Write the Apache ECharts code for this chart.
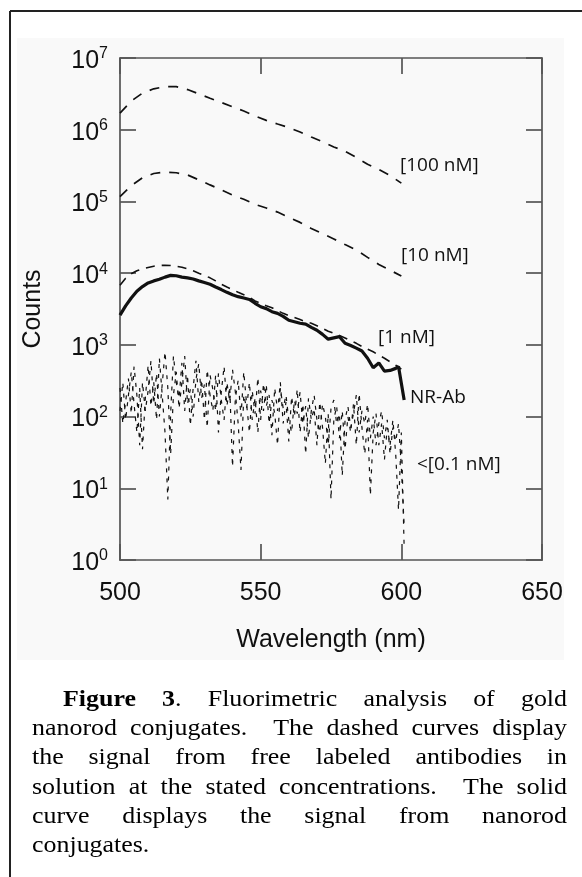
<!DOCTYPE html>
<html><head><meta charset="utf-8">
<script src="https://cdn.jsdelivr.net/npm/echarts@6/dist/echarts.min.js"></script>
<style>html,body{margin:0;padding:0;background:#fff}#c{width:582px;height:877px}</style>
</head><body><div id="c"></div>
<script>
// ---------------- data ----------------
const xTicks = [500, 550, 600, 650];
const yExponents = [0, 1, 2, 3, 4, 5, 6, 7];

const wlHigh = [500,504,508,512,516,520,524,528,532,536,540,544,548,552,556,560,564,568,572,576,580,584,588,592,596,600];
const c100nM = [1.70e6,2.51e6,3.24e6,3.72e6,3.98e6,3.98e6,3.63e6,3.16e6,2.75e6,2.40e6,2.09e6,1.82e6,1.55e6,1.35e6,1.20e6,1.07e6,9.3e5,7.9e5,6.8e5,5.75e5,5.0e5,4.1e5,3.3e5,2.8e5,2.3e5,1.8e5];
const c10nM = [1.17e5,1.66e5,2.14e5,2.45e5,2.57e5,2.51e5,2.34e5,2.0e5,1.70e5,1.45e5,1.23e5,1.07e5,9.1e4,8.1e4,7.1e4,6.0e4,5.1e4,4.2e4,3.55e4,3.0e4,2.5e4,2.1e4,1.66e4,1.32e4,1.10e4,9.1e3];

const wl1nM = [500,502,504,506,508,510,512,514,516,518,520,522,524,526,528,530,532,534,536,538,540,542,544,546,548,550,552,554,556,558,560,562,564,566,568,570,572,574,576,578,580,582,584,586,588,590,592,594,596,598,600];
const c1nM = [6800,8500,9800,10800,11500,12000,12500,12800,12900,12800,12500,12100,11500,10800,10000,9300,8600,7800,7000,6400,5900,5400,5000,4600,4100,3800,3500,3300,3000,2750,2550,2400,2250,2100,2000,1850,1700,1550,1450,1350,1250,1150,1050,950,870,800,720,650,580,520,460];

const wlNR = [500,502,504,506,508,510,512,514,516,518,520,522,524,526,528,530,532,534,536,538,540,542,544,546,548,550,552,554,556,558,560,562,564,566,568,570,572,574,576,578,580,582,584,586,588,590,592,594,596,598,599,601];
const nrAb = [2600,3500,4500,5600,6500,7300,7800,8200,8800,9300,9200,8800,8600,8300,7800,7400,7000,6400,5900,5400,5000,4700,4500,4300,3800,3400,3200,2900,2750,2500,2200,2100,2000,1950,1750,1600,1400,1200,1250,1300,1050,980,900,820,650,480,560,430,440,470,500,170];

const wlNoise = [500,501,502,503,504,505,506,507,508,509,510,511,512,513,514,515,516,517,518,519,520,521,522,523,524,525,526,527,528,529,530,531,532,533,534,535,536,537,538,539,540,541,542,543,544,545,546,547,548,549,550,551,552,553,554,555,556,557,558,559,560,561,562,563,564,565,566,567,568,569,570,571,572,573,574,575,576,577,578,579,580,581,582,583,584,585,586,587,588,589,590,591,592,593,594,595,596,597,598,599,600,601];
const noiseA = [120,300,90,200,420,150,60,250,35,180,
 520,140,300,90,650,200,60,7,110,700,
 300,180,560,120,380,75,250,600,160,330,
 90,450,200,120,380,60,220,500,140,260,
 20,180,320,100,420,150,60,230,110,350,
 90,290,140,200,55,250,120,300,80,160,
 45,190,100,240,60,150,30,180,90,130,
 40,160,70,22,110,7,90,140,50,120,
 35,100,60,150,40,210,70,30,90,8,
 60,110,40,80,25,70,40,90,30,5,
 60,1.5];
const noiseB = [250,80,160,340,110,500,200,40,300,120,
 230,600,150,400,100,280,800,250,30,200,
 420,130,300,700,150,240,100,330,550,180,
 280,70,380,240,120,400,170,90,300,160,
 450,220,80,18,200,130,300,90,180,60,
 230,120,280,80,170,110,40,250,130,200,
 90,60,170,110,220,80,140,50,120,200,
 90,60,150,100,40,130,170,80,110,15,
 90,140,70,110,200,60,120,80,150,50,
 100,40,80,120,50,90,30,70,45,80,
 20,3];

const curveLabels = ['[100 nM]', '[10 nM]', '[1 nM]', 'NR-Ab', '<[0.1 nM]'];
const captionLines = [
  '**Figure** **3**. Fluorimetric analysis of gold',
  'nanorod conjugates.  The dashed curves display',
  'the signal from free labeled antibodies in',
  'solution at the stated concentrations.  The solid',
  'curve displays the signal from nanorod',
  'conjugates.'
];

// ---------------- chart ----------------
const zip = (xs, ys) => xs.map((x, i) => [x, ys[i]]);
const INK = '#111';
const FRAME = '#555';
const SANS = '"Liberation Sans", Arial, sans-serif';

const chart = echarts.init(document.getElementById('c'), null, {renderer: 'canvas'});

function lineSeries(name, xs, ys, width, dash, z) {
  return {
    name, type: 'line', data: zip(xs, ys), symbol: 'none', silent: true,
    z: z, animation: false,
    lineStyle: {color: INK, width: width, type: dash}
  };
}

const axisCommon = {
  axisLine: {show: true, lineStyle: {color: FRAME, width: 1.7}},
  axisTick: {show: true, inside: true, length: 16, lineStyle: {color: FRAME, width: 1.7}},
  splitLine: {show: false}
};

// caption layout (justified)
const CAP_SIZE = 24, CAP_SX = 1.08;
const CAP_LEFT = 32, CAP_RIGHT = 567, CAP_INDENT = 63;
const CAP_MID0 = 700, CAP_LH = 29.1;
const CAP_FAMILY = 'Liberation Serif';
const mctx = document.createElement('canvas').getContext('2d');
function segWidth(t, bold) {
  mctx.font = (bold ? 'bold ' : '') + CAP_SIZE + 'px "' + CAP_FAMILY + '"';
  return mctx.measureText(t).width * CAP_SX;
}
const captionGraphics = [];
captionLines.forEach((line, li) => {
  const tokens = line.split(' ');
  const words = tokens.filter(t => t.length).map(tok => tok.split('**').map((s, i) => ({t: s, b: i % 2 === 1})).filter(s => s.t.length));
  const wordW = words.map(segs => segs.reduce((a, s) => a + segWidth(s.t, s.b), 0));
  const start = li === 0 ? CAP_INDENT : CAP_LEFT;
  const total = wordW.reduce((a, b) => a + b, 0);
  const isLast = li === captionLines.length - 1;
  const gap = isLast ? segWidth(' ', false) : (CAP_RIGHT - start - total) / (tokens.length - 1);
  let x = start;
  const y = CAP_MID0 + li * CAP_LH;
  let wi = 0;
  tokens.forEach((tok, ti) => {
    if (tok.length) {
      let sx = x;
      words[wi].forEach(s => {
        captionGraphics.push({
          type: 'text', x: sx, y: y, scaleX: CAP_SX, silent: true,
          style: {text: s.t, fontFamily: CAP_FAMILY, fontSize: CAP_SIZE, fontWeight: s.b ? 'bold' : 'normal',
                  fill: '#000', align: 'left', verticalAlign: 'middle'}
        });
        sx += segWidth(s.t, s.b);
      });
      x += wordW[wi];
      wi++;
    }
    if (ti < tokens.length - 1) x += gap;
  });
});

const labelPos = [[400, 166], [401, 256], [378, 338], [410, 398], [417, 465]];
const labelGraphics = curveLabels.map((t, i) => ({
  type: 'text', x: labelPos[i][0], y: labelPos[i][1], silent: true,
  style: {text: t, fontFamily: 'Open Sans', fontSize: 19, fill: INK, align: 'left', verticalAlign: 'middle'}
}));

const option = {
  animation: false,
  backgroundColor: '#ffffff',
  grid: {left: 120, right: 40, top: 58, bottom: 317, containLabel: false},
  xAxis: [
    Object.assign({
      type: 'value', min: xTicks[0], max: xTicks[xTicks.length - 1], interval: 50, position: 'bottom',
      name: 'Wavelength (nm)', nameLocation: 'middle', nameGap: 68,
      nameTextStyle: {fontSize: 25, fontFamily: SANS, color: INK},
      axisLabel: {fontSize: 25, fontFamily: SANS, color: INK, margin: 21}
    }, axisCommon),
    Object.assign({
      type: 'value', min: xTicks[0], max: xTicks[xTicks.length - 1], interval: 50, position: 'top',
      axisLabel: {show: false}
    }, axisCommon)
  ],
  yAxis: [
    Object.assign({
      type: 'log', logBase: 10, min: Math.pow(10, yExponents[0]), max: Math.pow(10, yExponents[yExponents.length - 1]),
      splitNumber: 7, position: 'left',
      name: 'Counts', nameLocation: 'middle', nameGap: 74, nameRotate: 90,
      nameTextStyle: {fontSize: 25, fontFamily: SANS, color: INK},
      axisLabel: {
        margin: 12, padding: [6, 0, 0, 0],
        formatter: v => '{b|10}{e|' + Math.round(Math.log10(v)) + '}',
        rich: {
          b: {fontSize: 25, fontFamily: SANS, color: INK, lineHeight: 30},
          e: {fontSize: 16, fontFamily: SANS, color: INK, lineHeight: 16, verticalAlign: 'top'}
        }
      }
    }, axisCommon),
    Object.assign({
      type: 'log', logBase: 10, min: Math.pow(10, yExponents[0]), max: Math.pow(10, yExponents[yExponents.length - 1]),
      splitNumber: 7, position: 'right', axisLabel: {show: false}
    }, axisCommon)
  ],
  series: [
    lineSeries('noiseA', wlNoise, noiseA, 1.2, [4, 6], 2),
    lineSeries('noiseB', wlNoise, noiseB, 1.2, [4, 6], 2),
    lineSeries('100 nM', wlHigh, c100nM, 1.7, [10, 9], 3),
    lineSeries('10 nM', wlHigh, c10nM, 1.7, [10, 9], 3),
    lineSeries('1 nM', wl1nM, c1nM, 1.6, [9, 7], 3),
    lineSeries('NR-Ab', wlNR, nrAb, 3.2, 'solid', 4)
  ],
  graphic: [
    {type: 'rect', z: -10, silent: true, shape: {x: 17, y: 38, width: 547, height: 622}, style: {fill: '#f9f9f9'}},
    {type: 'line', z: 10, silent: true, shape: {x1: 10, y1: 11, x2: 582, y2: 11}, style: {stroke: '#222', lineWidth: 2}},
    {type: 'line', z: 10, silent: true, shape: {x1: 10, y1: 11, x2: 10, y2: 877}, style: {stroke: '#222', lineWidth: 2}}
  ].concat(labelGraphics, captionGraphics)
};
chart.setOption(option);
</script>
</body></html>
